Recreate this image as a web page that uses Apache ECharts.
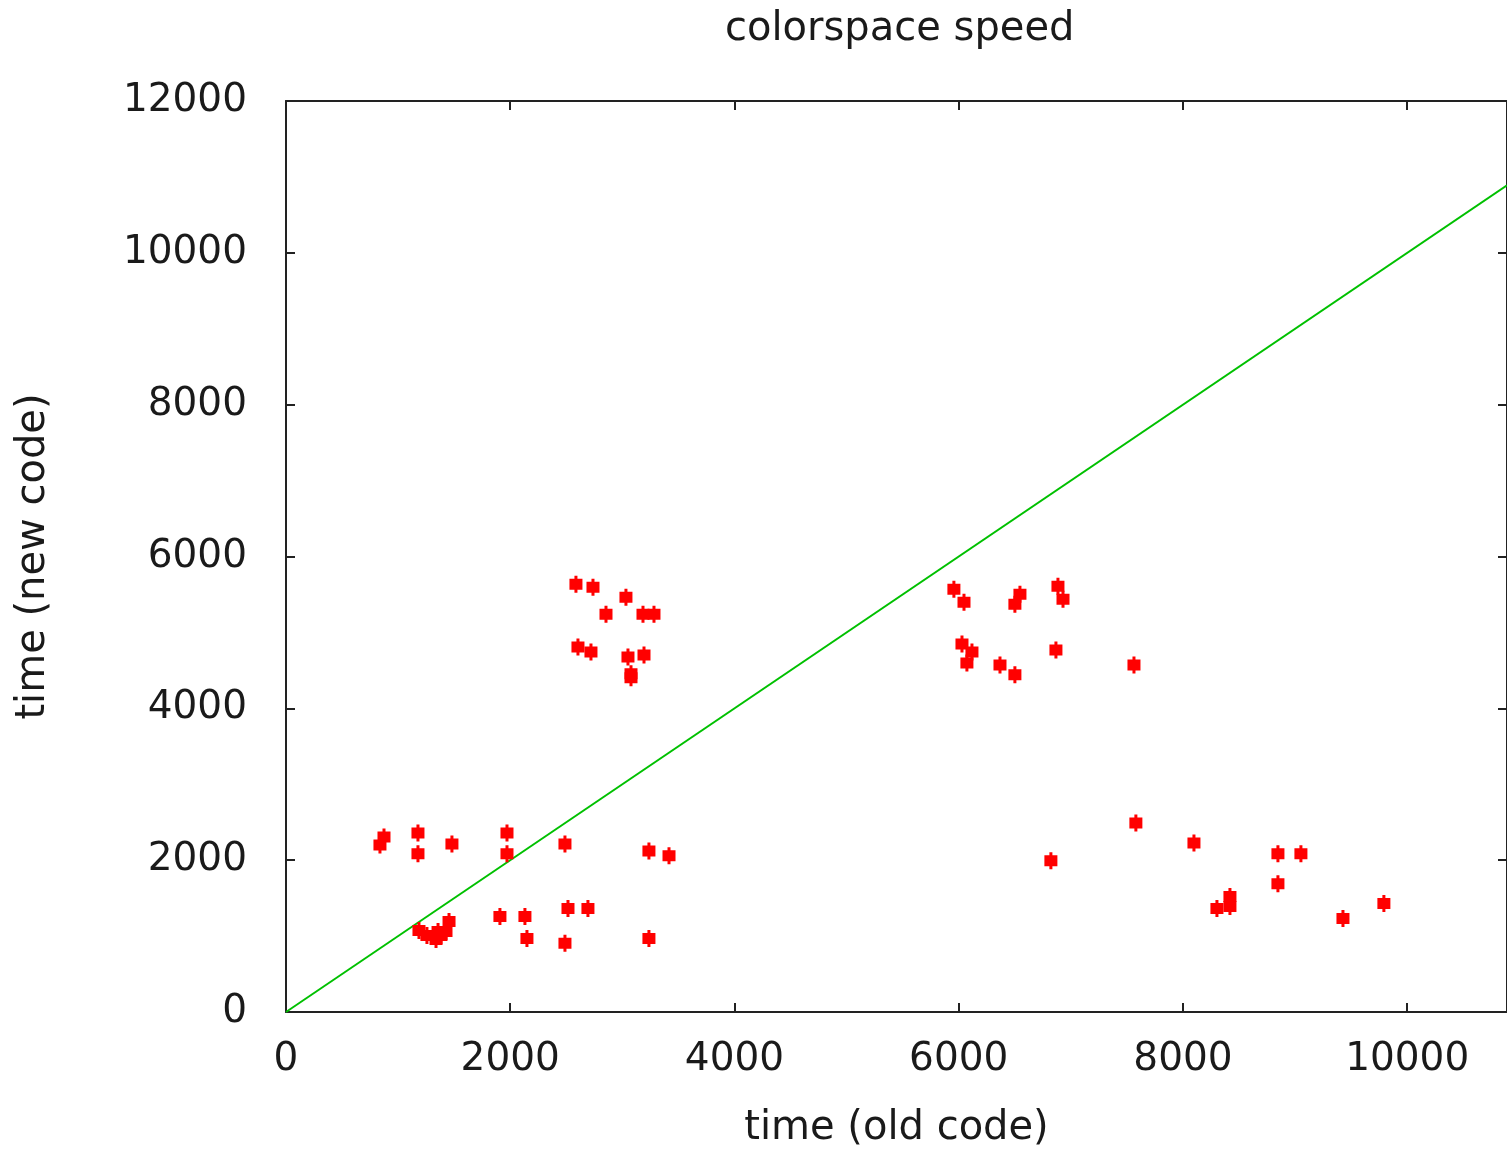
<!DOCTYPE html>
<html>
<head>
<meta charset="utf-8">
<script src="https://cdn.jsdelivr.net/npm/echarts@6/dist/echarts.min.js"></script>
<style>
  html, body { margin: 0; padding: 0; background: #fff; }
  #chart { width: 1507px; height: 1154px; }
</style>
</head>
<body>
<div id="chart"></div>
<script>
// measured points: time with old code vs time with new code
const oldTime = [
    838, 874, 1177, 1177, 1480, 1971, 1971, 2488, 3237, 3416,
    1186, 1257, 1338, 1382, 1427, 1454, 1356,
    1908, 2131, 2149, 2488, 2515, 2693, 3237,
    2586, 2738, 3032, 2854, 3184, 3282, 2604, 2720, 3050, 3193, 3077, 3077,
    5957, 6047, 6546, 6501, 6885, 6930, 6029, 6118, 6073, 6368, 6501, 6867, 7563,
    6822, 7580, 8098, 8847, 9052, 8847, 8303, 8419, 8419, 9427, 9792
];
const newTime = [
    2201, 2306, 2358, 2083, 2214, 2358, 2083, 2214, 2122, 2057,
    1074, 1009, 956, 1009, 1061, 1192, 1061,
    1258, 1258, 969, 904, 1362, 1362, 969,
    5633, 5594, 5463, 5240, 5240, 5240, 4808, 4742, 4677, 4703, 4454, 4402,
    5568, 5398, 5502, 5371, 5607, 5437, 4847, 4742, 4598, 4572, 4441, 4769, 4572,
    1991, 2489, 2227, 2083, 2083, 1690, 1362, 1520, 1389, 1231, 1428
];
// reference line y = x
const lineX = [0, 10890];

const xMax = 10890;
const yMax = 12000;
const font = 'DejaVu Sans';
const textColor = '#1a1a1a';

const chart = echarts.init(document.getElementById('chart'));

const axisCommon = {
    axisLine: { show: true, onZero: false, lineStyle: { color: '#222', width: 2 } },
    axisTick: { show: true, inside: true, length: 9, lineStyle: { color: '#222', width: 2 } },
    splitLine: { show: false }
};
const plain = v => String(v);

chart.setOption({
    animation: false,
    title: {
        text: 'colorspace speed',
        left: 720,
        top: 5,
        textStyle: { fontFamily: font, fontSize: 40, fontWeight: 'normal', color: textColor }
    },
    grid: { left: 286, top: 101, right: 0, bottom: 130 },
    xAxis: [
        Object.assign({
            type: 'value', min: 0, max: xMax, interval: 2000, position: 'bottom',
            name: 'time (old code)', nameLocation: 'middle', nameGap: 97,
            nameTextStyle: { fontFamily: font, fontSize: 40, color: textColor },
            axisLabel: { fontFamily: font, fontSize: 39, color: textColor, margin: 28, showMaxLabel: false, formatter: plain }
        }, axisCommon),
        Object.assign({
            type: 'value', min: 0, max: xMax, interval: 2000, position: 'top',
            axisLabel: { show: false }
        }, axisCommon)
    ],
    yAxis: [
        Object.assign({
            type: 'value', min: 0, max: yMax, interval: 2000, position: 'left',
            name: 'time (new code)', nameLocation: 'middle', nameGap: 232,
            nameTextStyle: { fontFamily: font, fontSize: 40, color: textColor },
            axisLabel: { fontFamily: font, fontSize: 39, color: textColor, margin: 39, formatter: plain }
        }, axisCommon),
        Object.assign({
            type: 'value', min: 0, max: yMax, interval: 2000, position: 'right',
            axisLabel: { show: false }
        }, axisCommon)
    ],
    series: [
        {
            type: 'scatter',
            data: oldTime.map((x, i) => [x, newTime[i]]),
            symbol: 'path://M5,0 H8 V3 H13 V14 H8 V17 H5 V14 H0 V3 H5 Z',
            symbolSize: [13, 17],
            itemStyle: { color: '#ff0000', opacity: 1 },
            z: 3
        },
        {
            type: 'line',
            data: lineX.map(x => [x, x]),
            symbol: 'none',
            lineStyle: { color: '#00c000', width: 2 },
            z: 2
        }
    ]
});
</script>
</body>
</html>
